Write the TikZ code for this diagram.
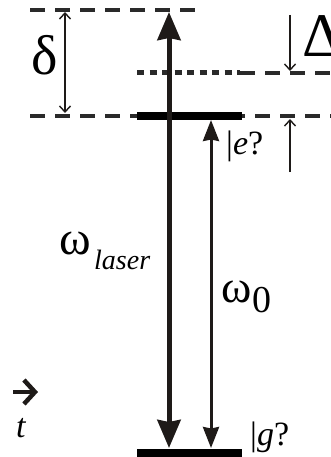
\documentclass[tikz,border=0pt]{standalone}
\usepackage{fontspec}
\setmainfont{Liberation Serif}
\newfontfamily\figfont{Liberation Serif}
\usetikzlibrary{arrows.meta,positioning,calc}
\definecolor{ink}{HTML}{1E1A18}
\definecolor{dashc}{HTML}{2A2A2A}
\newcommand{\hugesym}{\fontsize{56}{60}\selectfont}
\newcommand{\omsym}{\fontsize{46}{50}\selectfont}
\newcommand{\ketsym}{\fontsize{34}{38}\selectfont}
\tikzset{
  lbl/.style={inner sep=0pt, anchor=base west, font=\figfont},
  level/.style={draw=black, line width=8pt},
  dashlvl/.style={draw=dashc, line width=3.4pt, dash pattern=on 15pt off 10pt},
  dotlvl/.style={draw=dashc, line width=5pt, dash pattern=on 7pt off 5.5pt},
  laserarr/.style={{Stealth[length=28pt,width=23pt,inset=2pt]}-{Stealth[length=28pt,width=23pt,inset=2pt]}, line width=5pt, draw=ink},
  resarr/.style={{Stealth[length=21pt,width=16pt,inset=1.5pt]}-{Stealth[length=21pt,width=16pt,inset=1.5pt]}, line width=3pt, draw=ink},
  thinarr/.style={-{Straight Barb[length=6pt,width=11pt]}, line width=1.4pt, draw=ink},
  twoarr/.style={{Straight Barb[length=6pt,width=11pt]}-{Straight Barb[length=6pt,width=11pt]}, line width=1.4pt, draw=ink},
  timearr/.style={-{Straight Barb[length=11pt,width=24pt,line width=4.5pt]}, line width=4.5pt, draw=ink}
}

\begin{document}
\begin{tikzpicture}[x=1pt, y=-1pt]
  \useasboundingbox (0,0) rectangle (331,457);
  % levels
  \coordinate (topL) at (30,10);
  \coordinate (topR) at (198,10);
  \coordinate (virtL) at (137,73);
  \coordinate (virtM) at (240,73);
  \coordinate (virtR) at (331,73);
  \coordinate (excL) at (30,116);
  \coordinate (excR) at (331,116);
  \coordinate (barL) at (137,116);
  \coordinate (barR) at (242,116);
  \coordinate (gndL) at (137,452.5);
  \coordinate (gndR) at (242,452.5);
  \draw[dashlvl] (topL) -- (topR);
  \draw[dotlvl] (virtL) -- (virtM);
  \draw[dashlvl] (virtM) -- (virtR);
  \draw[dashlvl] (excL) -- (excR);
  \draw[level] (barL) -- (barR);
  \draw[level] (gndL) -- (gndR);

  % transitions
  \coordinate (lasTop) at (169,12);
  \coordinate (lasBot) at (169,448);
  \coordinate (resTop) at (211,120);
  \coordinate (resBot) at (211,448);
  \draw[laserarr] (lasBot) -- (lasTop);
  \draw[resarr] (resTop) -- (resBot);

  % detunings
  \coordinate (delTop) at (65,12);
  \coordinate (delBot) at (65,113);
  \coordinate (DelTop) at (290,15);
  \coordinate (DelBot) at (290,71);
  \coordinate (eTail) at (290,172);
  \coordinate (eHead) at (290,119);
  \draw[twoarr] (delTop) -- (delBot);
  \draw[thinarr] (DelTop) -- (DelBot);
  \draw[thinarr] (eTail) -- (eHead);

  % labels
  \node[lbl] (delta) at (31,75) {\hugesym δ};
  \node[lbl] (Delta) at (302,57) {\fontsize{62}{66}\selectfont Δ};
  \node[lbl] (eket) at (226,155) {\ketsym |\textit{e}?};
  \node[lbl] (gket) at (250,445) {\ketsym |\textit{g}?};
  \node[lbl] (wl) at (59,254) {\fontsize{48}{52}\selectfont ω};
  \node[lbl, right=3pt of wl.base east, anchor=base west, yshift=-15pt] (wlsub) {\fontsize{28}{30}\selectfont\itshape laser};
  \node[lbl] (w0) at (221,302) {\omsym ω};
  \node[lbl, right=1pt of w0.base east, anchor=base west, yshift=-10pt] (w0sub) {\fontsize{38}{40}\selectfont 0};

  % time axis
  \coordinate (tL) at (13,392);
  \coordinate (tR) at (38,392);
  \draw[timearr] (tL) -- (tR);
  \node[lbl] (tlab) at (16,437) {\fontsize{34}{36}\selectfont\itshape t};
\end{tikzpicture}
\end{document}
